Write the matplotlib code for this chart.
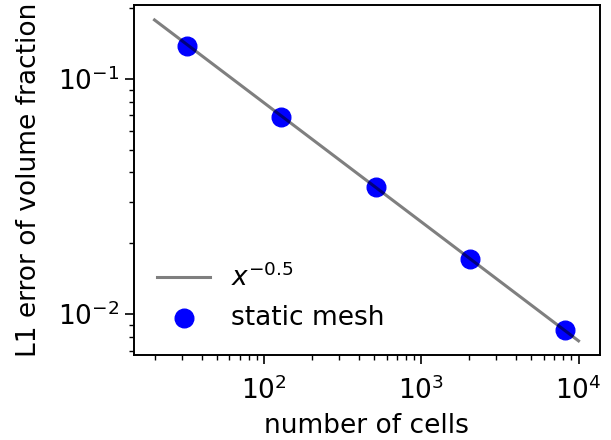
import matplotlib
matplotlib.use('Agg')
import matplotlib.pyplot as plt

# mesh sizes and measured L1 errors
n_cells = [32, 128, 512, 2048, 8192]
l1_error = [0.138, 0.0689, 0.0347, 0.0171, 0.00855]

# reference slope line endpoints
ref_x = [20, 10000]
ref_y = [0.178, 0.0077]

fig, ax = plt.subplots(figsize=(6.11, 4.40), dpi=100)
fig.subplots_adjust(left=0.2185, right=0.982, top=0.9886, bottom=0.193)

pts = ax.scatter(n_cells, l1_error, s=180, color='blue', label='static mesh', zorder=2)
ln, = ax.plot(ref_x, ref_y, color='black', alpha=0.5, linewidth=2.2, label=r'$x^{-0.5}$', zorder=3)

ax.set_xscale('log')
ax.set_yscale('log')
ax.set_xlim(14.7, 13700)
ax.set_ylim(0.0067, 0.206)
ax.set_xlabel('number of cells', fontsize=19, labelpad=6)
ax.set_ylabel('L1 error of volume fraction', fontsize=19, labelpad=12)
ax.tick_params(which='major', labelsize=19, length=6.5, width=1.2)
ax.tick_params(which='minor', length=3.7, width=1.0)
ax.tick_params(axis='x', which='major', pad=9)
for sp in ax.spines.values():
    sp.set_linewidth(1.4)
ax.legend(handles=[ln, pts], loc='lower left', frameon=False, fontsize=19)

fig.savefig('out.png', dpi=100)
